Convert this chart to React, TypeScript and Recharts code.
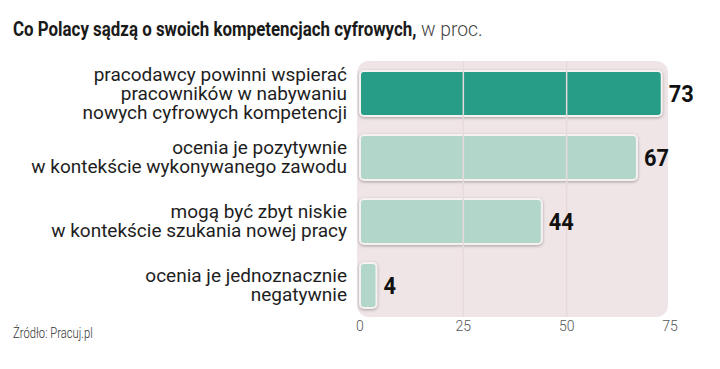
import { BarChart, Bar, XAxis, YAxis, LabelList, Cell, ReferenceArea, ReferenceLine } from 'recharts';

const categories = [
  'pracodawcy powinni wspierać\npracowników w nabywaniu\nnowych cyfrowych kompetencji',
  'ocenia je pozytywnie\nw kontekście wykonywanego zawodu',
  'mogą być zbyt niskie\nw kontekście szukania nowej pracy',
  'ocenia je jednoznacznie\nnegatywnie',
];
const values = [73, 67, 44, 4];
const xTicks = [0, 25, 50, 75];
const gridValues = [25, 50];

const data = categories.map((name, i) => ({ name, value: values[i] }));

const BAR_COLORS = ['#279c86', '#b3d6cb', '#b3d6cb', '#b3d6cb'];

function CategoryTick({ x, y, payload }: any) {
  const lines = String(payload.value).split('\n');
  const lh = 19;
  const start = y - ((lines.length - 1) * lh) / 2;
  return (
    <text x={x} textAnchor="end" fill="#1e1e1e" fontSize={19} fontFamily="Roboto, sans-serif">
      {lines.map((l, i) => (
        <tspan key={i} x={x} y={start + i * lh} dy="0.35em">{l}</tspan>
      ))}
    </text>
  );
}

function ValueLabel({ x, y, width, height, value }: any) {
  return (
    <text x={x + width + 7} y={y + height / 2} dy="0.36em" fill="#111" fontSize={23}
      fontWeight={700} fontFamily="Roboto, sans-serif" textLength={String(value).length * 12.5}
      lengthAdjust="spacingAndGlyphs">
      {value}
    </text>
  );
}

function RoundBar({ x, y, width, height, fill }: any) {
  return (
    <rect x={x} y={y} width={Math.max(width, 0)} height={height} rx={4} fill={fill}
      stroke="#f7f2f2" strokeWidth={2}
      style={{ filter: 'drop-shadow(0 1px 1.5px rgba(0,0,0,0.3))' }} />
  );
}

function PlotBg({ x, y, width, height }: any) {
  return <rect x={x - 3} y={y} width={width + 1} height={height} rx={12} fill="#efe5e6" />;
}

export default function App() {
  return (
    <div style={{ position: 'absolute', left: 0, top: 0, width: 720, height: 369, background: '#fff' }}>
      <svg width={720} height={369} style={{ position: 'absolute', left: 0, top: 0 }}>
        {/* condensed look: Roboto squeezed horizontally */}
        <g transform="translate(13,36) scale(0.805,1)">
          <text x={0} y={0} fontFamily="Roboto, sans-serif" fontSize={21} fontWeight={700} fill="#1a1a1a">
            Co Polacy sądzą o swoich kompetencjach cyfrowych,
          </text>
        </g>
        <g transform="translate(421,36) scale(0.92,1)">
          <text x={0} y={0} fontFamily="Roboto, sans-serif" fontSize={21} fontWeight={300} fill="#444">
            w proc.
          </text>
        </g>
        <g transform="translate(13,338) scale(0.75,1)">
          <text x={0} y={0} fontFamily="Roboto, sans-serif" fontSize={15} fontWeight={300} fill="#333">
            Źródło: Pracuj.pl
          </text>
        </g>
      </svg>
      <div style={{ position: 'absolute', left: 0, top: 0 }}>
        <BarChart width={720} height={369} data={data} layout="vertical"
          margin={{ top: 61, right: 50, bottom: 22, left: 0 }} barSize={45}>
          <ReferenceArea x1={0} x2={75} shape={PlotBg} ifOverflow="visible" />
          {gridValues.map((v) => (
            <ReferenceLine key={v} x={v} stroke="#e6dadc" strokeWidth={1.5} />
          ))}
          <XAxis type="number" domain={[0, 75]} ticks={xTicks} axisLine={false} tickLine={false}
            tickSize={0} tickMargin={4} height={30}
            tick={{ fill: '#555', fontSize: 14, fontFamily: 'Roboto, sans-serif', fontWeight: 300 }} />
          <YAxis type="category" dataKey="name" width={360} axisLine={false} tickLine={false}
            tickSize={0} tickMargin={13} tick={<CategoryTick />} />
          <Bar dataKey="value" shape={<RoundBar />} isAnimationActive={false}>
            {data.map((d, i) => (
              <Cell key={`cell-${i}`} fill={BAR_COLORS[i]} />
            ))}
            <LabelList dataKey="value" content={<ValueLabel />} />
          </Bar>
        </BarChart>
      </div>
    </div>
  );
}
